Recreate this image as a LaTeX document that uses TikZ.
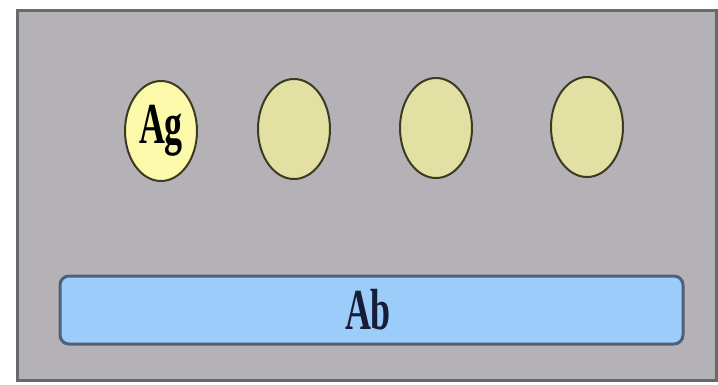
\documentclass[tikz,border=0pt]{standalone}
\usepackage{fontspec}
\setmainfont{Liberation Serif}
\usetikzlibrary{shapes.geometric}
\definecolor{panelgray}{RGB}{180,178,183}
\definecolor{framegray}{RGB}{105,105,108}
\definecolor{agyellow}{RGB}{252,249,170}
\definecolor{siteyellow}{RGB}{226,224,162}
\definecolor{rimolive}{RGB}{60,58,35}
\definecolor{barblue}{RGB}{156,204,250}
\definecolor{barrim}{RGB}{80,96,118}
\definecolor{abnavy}{RGB}{20,30,55}
\tikzset{
  site/.style={ellipse, draw=rimolive, line width=2pt, fill=siteyellow,
    minimum width=72pt, minimum height=100pt, inner sep=0pt},
  bigtext/.style={font=\bfseries\fontsize{58}{58}\selectfont, xscale=0.62}
}
\begin{document}
\begin{tikzpicture}[y=1pt, x=1pt, yscale=-1, inner sep=0pt, outer sep=0pt]
  \useasboundingbox (0,0) rectangle (718,384);
  % panel
  \path[fill=panelgray, draw=framegray, line width=3pt] (17,10) rectangle (716,380);
  % antigen sites
  \node[site, fill=agyellow] (ag) at (161,131) {};
  \node[bigtext, text=black] (agtext) at (ag.center) {Ag};
  \node[site] (sitetwo) at (294,129) {};
  \node[site] (sitethree) at (436,128) {};
  \node[site] (sitefour) at (587,127) {};
  % antibody bar
  \path[fill=barblue, draw=barrim, line width=3pt, rounded corners=9pt]
    (60,276) rectangle (683,344);
  \node[bigtext, text=abnavy] (ab) at (368,310) {Ab};
\end{tikzpicture}
\end{document}
